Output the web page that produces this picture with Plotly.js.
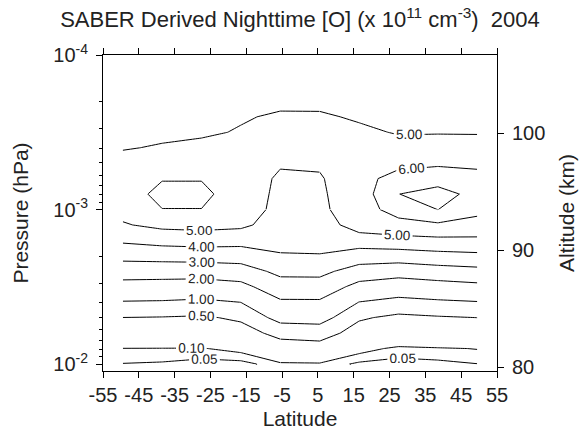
<!DOCTYPE html>
<html><head><meta charset="utf-8">
<script src="https://cdn.plot.ly/plotly-3.0.1.min.js"></script>
<style>html,body{margin:0;padding:0;background:#fff}#chart{width:581px;height:433px}</style>
</head><body><div id="chart"></div>
<script>
// Latitude columns (deg) and pressure rows (hPa); first row = frame bottom, no data there
const latitudes = [-49.5, -38.5, -27.5, -16.5, -5.5, 5.5, 16.5, 27.5, 38.5, 49.5];
const pressureLevels = [1.110e-2, 1.000e-2, 7.943e-3, 6.310e-3, 5.012e-3, 3.981e-3, 3.162e-3, 2.512e-3, 1.995e-3,
  1.585e-3, 1.259e-3, 1.000e-3, 7.943e-4, 6.310e-4, 5.012e-4, 3.981e-4, 3.162e-4, 2.512e-4, 1.995e-4];
// [O] in units of 1e11 cm^-3; one row per pressure level, one column per latitude
const oxygen = [
 [null,null,null,null,null,null,null,null,null,null],
 [0.048,0.043,0.028,0.030,0.080,0.085,0.039,0.030,0.036,0.049],
 [0.097,0.096,0.095,0.125,0.305,0.330,0.130,0.082,0.091,0.103],
 [0.296,0.283,0.268,0.331,0.625,0.680,0.334,0.225,0.264,0.303],
 [0.495,0.479,0.449,0.566,1.200,1.235,0.547,0.415,0.460,0.501],
 [0.955,0.931,0.856,1.005,1.870,1.880,0.986,0.783,0.884,0.964],
 [1.650,1.616,1.556,1.730,2.570,2.570,1.710,1.470,1.620,1.760],
 [2.440,2.420,2.420,2.550,3.240,3.260,2.560,2.390,2.570,2.710],
 [3.290,3.360,3.410,3.460,3.950,3.970,3.550,3.510,3.680,3.780],
 [4.150,4.350,4.440,4.350,4.200,4.200,4.480,4.670,4.770,4.820],
 [4.920,5.240,5.310,5.200,4.550,4.450,5.510,5.680,5.840,5.610],
 [5.300,5.980,5.980,5.300,4.830,4.800,5.560,6.390,7.010,6.300],
 [5.470,6.300,6.300,5.350,4.860,4.890,5.450,6.990,7.300,6.750],
 [5.450,5.940,5.940,5.300,4.920,4.950,5.370,6.680,6.665,6.500],
 [5.250,5.520,5.570,5.220,5.050,5.070,5.300,5.500,5.820,5.670],
 [4.950,5.060,5.200,5.140,5.120,5.120,5.200,5.150,5.370,5.300],
 [4.750,4.850,4.880,5.060,5.130,5.100,5.080,4.970,4.950,4.950],
 [4.600,4.700,4.720,4.930,5.100,5.054,4.950,4.850,4.850,4.850],
 [4.500,4.600,4.600,4.800,4.830,4.900,4.850,4.750,4.750,4.750]
];
const contourLevels = [0.05, 0.10, 0.50, 1.00, 2.00, 3.00, 4.00, 5.00, 6.00, 7.00];

// Which levels carry a label in each part of the grid (row index range, column index range)
const labelRegions = [
  {rows: [0, 11], cols: [0, 4], labels: [0.05, 0.10, 0.50, 1.00, 2.00, 3.00, 4.00, 5.00]},
  {rows: [0, 11], cols: [4, 9], labels: [0.05, 5.00]},
  {rows: [11, 18], cols: [0, 5], labels: []},
  {rows: [11, 18], cols: [5, 9], labels: [5.00, 6.00]}
];

const latTickVals = [-55, -45, -35, -25, -15, -5, 5, 15, 25, 35, 45, 55];
const latTickText = ['-55', '-45', '-35', '-25', '-15', '-5', '5', '15', '25', '35', '45', '55'];
const presTickVals = [1e-4, 1e-3, 1e-2];
const presTickText = ['10<sup>-4</sup>', '10<sup>-3</sup>', '10<sup>-2</sup>'];
const presMinorVals = [2e-4,3e-4,4e-4,5e-4,6e-4,7e-4,8e-4,9e-4,2e-3,3e-3,4e-3,5e-3,6e-3,7e-3,8e-3,9e-3];
const altTickVals = [80, 90, 100];

const FONT = 'Liberation Sans, Arial, Helvetica, sans-serif';
const TXT = '#222';

const traces = [];
labelRegions.forEach(reg => {
  const xs = latitudes.slice(reg.cols[0], reg.cols[1] + 1);
  const ys = pressureLevels.slice(reg.rows[0], reg.rows[1] + 1);
  const zs = oxygen.slice(reg.rows[0], reg.rows[1] + 1).map(r => r.slice(reg.cols[0], reg.cols[1] + 1));
  contourLevels.forEach(L => {
    traces.push({
      type: 'contour', x: xs, y: ys, z: zs,
      autocontour: false, connectgaps: false,
      contours: {
        start: L, end: L, size: 1, coloring: 'none',
        showlabels: reg.labels.includes(L),
        labelformat: '.2f',
        labelfont: {family: FONT, size: 13.5, color: TXT}
      },
      line: {color: '#000', width: 1, smoothing: 0},
      showscale: false, hoverinfo: 'skip', showlegend: false
    });
  });
});
traces.push({type: 'scatter', x: [], y: [], yaxis: 'y2', hoverinfo: 'skip', showlegend: false});

const layout = {
  width: 581, height: 433,
  margin: {l: 103, r: 84, t: 55, b: 62},
  paper_bgcolor: '#fff', plot_bgcolor: '#fff',
  font: {family: FONT, color: TXT, size: 20},
  title: {
    text: 'SABER Derived Nighttime [O] (x 10<sup>11</sup> cm<sup>-3</sup>)\u00A0 2004',
    font: {family: FONT, size: 22, color: TXT},
    xref: 'paper', x: 0.5, xanchor: 'center',
    yref: 'container', y: 0.955, yanchor: 'middle'
  },
  xaxis: {
    range: [-55, 55], tickvals: latTickVals, ticktext: latTickText,
    ticks: 'outside', ticklen: 6, tickcolor: '#000', tickwidth: 1,
    showline: true, linecolor: '#000', linewidth: 1, mirror: 'ticks',
    showgrid: false, zeroline: false,
    tickfont: {family: FONT, size: 20, color: TXT},
    title: {text: 'Latitude', font: {family: FONT, size: 21, color: TXT}, standoff: 6}
  },
  yaxis: {
    type: 'log', range: [-1.9547, -4],
    tickvals: presTickVals, ticktext: presTickText,
    ticks: 'outside', ticklen: 6, tickcolor: '#000', tickwidth: 1,
    ticklabelstandoff: 4,
    minor: {tickvals: presMinorVals, ticks: 'outside', ticklen: 3, tickcolor: '#000', tickwidth: 1, showgrid: false},
    showline: true, linecolor: '#000', linewidth: 1, mirror: false,
    showgrid: false, zeroline: false,
    tickfont: {family: FONT, size: 20, color: TXT},
    title: {text: 'Pressure (hPa)', font: {family: FONT, size: 21, color: TXT}, standoff: 18}
  },
  yaxis2: {
    overlaying: 'y', side: 'right', range: [79.66, 106.67],
    tickvals: altTickVals,
    ticks: 'outside', ticklen: 6, tickcolor: '#000', tickwidth: 1,
    ticklabelstandoff: 4,
    showline: true, linecolor: '#000', linewidth: 1,
    showgrid: false, zeroline: false,
    tickfont: {family: FONT, size: 20, color: TXT},
    title: {text: 'Altitude (km)', font: {family: FONT, size: 21, color: TXT}, standoff: 14}
  },
  showlegend: false
};

Plotly.newPlot('chart', traces, layout, {staticPlot: true, displayModeBar: false});
</script>
</body></html>
